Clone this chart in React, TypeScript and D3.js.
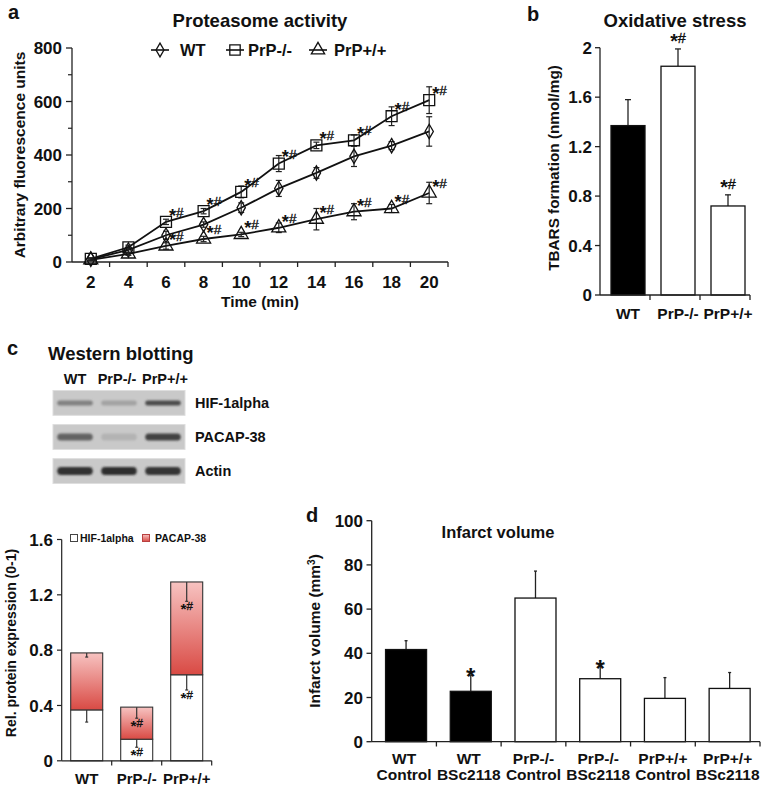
import React from 'react';
import * as d3 from 'd3';

const FONT = '"Liberation Sans", Arial, Helvetica, sans-serif';

// ---------- Panel a: Proteasome activity ----------
const timePoints = [2, 4, 6, 8, 10, 12, 14, 16, 18, 20];
const wtActivity = [10, 45, 100, 140, 203, 275, 333, 395, 435, 488];
const wtActivityErr = [4, 8, 15, 10, 18, 30, 20, 38, 15, 55];
const koActivity = [12, 55, 150, 190, 262, 368, 436, 455, 545, 605];
const koActivityErr = [4, 8, 10, 10, 22, 30, 12, 20, 35, 50];
const tgActivity = [8, 30, 60, 86, 103, 128, 160, 188, 200, 258];
const tgActivityErr = [3, 5, 12, 10, 8, 18, 40, 30, 15, 40];
const koActivitySig = ['', '', '*#', '*#', '*#', '*#', '*#', '*#', '*#', '*#'];
const tgActivitySig = ['', '', '*#', '*#', '*#', '*#', '*#', '*#', '*#', '*#'];
const activityTicks = [0, 200, 400, 600, 800];
const activityMinorTicks = [100, 300, 500, 700];
const activitySeries = ['WT', 'PrP-/-', 'PrP+/+'];

// ---------- Panel b: Oxidative stress ----------
const genotypes = ['WT', 'PrP-/-', 'PrP+/+'];
const tbarsValues = [1.37, 1.85, 0.72];
const tbarsErr = [0.21, 0.14, 0.09];
const tbarsSig = ['', '*#', '*#'];
const tbarsTicks = [0, 0.4, 0.8, 1.2, 1.6, 2];
const tbarsTickLabels = ['0', '0.4', '0.8', '1.2', '1.6', '2'];

// ---------- Panel c: Western blotting ----------
const blotProteins = ['HIF-1alpha', 'PACAP-38', 'Actin'];
const blotIntensity = [
  [0.42, 0.22, 0.72],
  [0.58, 0.12, 0.78],
  [0.88, 0.9, 0.86],
];
const hifExpr = [0.368, 0.156, 0.622];
const hifErr = [0.088, 0.058, 0.11];
const pacapExpr = [0.412, 0.232, 0.671];
const pacapErr = [0.03, 0.08, 0.14];
const hifSig = ['', '*#', '*#'];
const pacapSig = ['', '*#', '*#'];
const exprTicks = [0, 0.4, 0.8, 1.2, 1.6];
const exprTickLabels = ['0', '0.4', '0.8', '1.2', '1.6'];
const exprLegend = ['HIF-1alpha', 'PACAP-38'];

// ---------- Panel d: Infarct volume ----------
const infarctGroups = [
  ['WT', 'Control'],
  ['WT', 'BSc2118'],
  ['PrP-/-', 'Control'],
  ['PrP-/-', 'BSc2118'],
  ['PrP+/+', 'Control'],
  ['PrP+/+', 'BSc2118'],
];
const infarctValues = [41.7, 22.8, 65, 28.5, 19.6, 24.1];
const infarctErr = [4, 7.3, 12.2, 5.5, 9.4, 7.2];
const infarctSig = ['', '*', '', '*', '', ''];
const infarctFill = ['#000', '#000', '#fff', '#fff', '#fff', '#fff'];
const infarctTicks = [0, 20, 40, 60, 80, 100];

const txt = (extra: any = {}) => ({ fontFamily: FONT, fontWeight: 700, fill: '#111', ...extra });

// renders "*#" with an enlarged star-like asterisk
function Sig({ x, y, label, size, anchor = 'start' }: { x: number; y: number; label: string; size: number; anchor?: string }) {
  const star = label.startsWith('*');
  const rest = star ? label.slice(1) : label;
  const shift = size * 0.36;
  return (
    <text x={x} y={y} textAnchor={anchor} {...txt({ fontSize: size, fontWeight: 700 })}>
      {star ? <tspan fontSize={size * 1.35} dy={shift}>*</tspan> : null}
      {rest ? <tspan dy={star ? -shift : 0} fontWeight={400} stroke="#111" strokeWidth={0.35}>{rest}</tspan> : null}
    </text>
  );
}

function PanelA() {
  const xA = d3.scaleBand<number>().domain(timePoints).range([72, 448]);
  const yA = d3.scaleLinear().domain([0, 800]).range([262, 48]);
  const cx = (i: number) => (xA(timePoints[i]) as number) + xA.bandwidth() / 2;
  const line = d3.line<number>().x((_, i) => cx(i)).y((v) => yA(v));
  const series = [
    { name: activitySeries[0], vals: wtActivity, err: wtActivityErr, sym: d3.symbolDiamond, size: 60, sig: null as any },
    { name: activitySeries[1], vals: koActivity, err: koActivityErr, sym: d3.symbolSquare, size: 120, sig: koActivitySig },
    { name: activitySeries[2], vals: tgActivity, err: tgActivityErr, sym: d3.symbolTriangle, size: 85, sig: tgActivitySig },
  ];
  const legendX = [160, 235, 318];
  const legendTextX = [180, 248, 334];
  return (
    <g>
      <text x={8} y={19} {...txt({ fontSize: 20 })}>a</text>
      <text x={260} y={27} textAnchor="middle" {...txt({ fontSize: 18.5 })}>Proteasome activity</text>
      {series.map((s, k) => (
        <g key={'lg' + k}>
          <line x1={legendX[k] - 9} x2={legendX[k] + 9} y1={50} y2={50} stroke="#111" strokeWidth={1.6} />
          <path d={d3.symbol(s.sym, s.size * 0.9)() as string} transform={`translate(${legendX[k]},50)`} fill="none" stroke="#111" strokeWidth={1.3} />
          <text x={legendTextX[k]} y={56} {...txt({ fontSize: 16.5 })}>{s.name}</text>
        </g>
      ))}
      {/* axes */}
      <line x1={72} x2={72} y1={48} y2={262} stroke="#222" strokeWidth={1.3} />
      <line x1={72} x2={448} y1={262} y2={262} stroke="#222" strokeWidth={1.3} />
      {activityTicks.map((t) => (
        <g key={'ya' + t}>
          <line x1={66} x2={72} y1={yA(t)} y2={yA(t)} stroke="#222" strokeWidth={1.3} />
          <text x={62} y={yA(t)} dy="0.36em" textAnchor="end" {...txt({ fontSize: 17 })}>{t}</text>
        </g>
      ))}
      {activityMinorTicks.map((t) => (
        <line key={'ym' + t} x1={68} x2={72} y1={yA(t)} y2={yA(t)} stroke="#222" strokeWidth={1.2} />
      ))}
      {timePoints.map((t, i) => (
        <g key={'xa' + t}>
          <line x1={(xA(t) as number) + xA.bandwidth()} x2={(xA(t) as number) + xA.bandwidth()} y1={262} y2={267} stroke="#222" strokeWidth={1.3} />
          <text x={cx(i)} y={288} textAnchor="middle" {...txt({ fontSize: 17 })}>{t}</text>
        </g>
      ))}
      <text x={260} y={307} textAnchor="middle" {...txt({ fontSize: 15.5 })}>Time (min)</text>
      <text transform="translate(19,155) rotate(-90)" textAnchor="middle" dy="0.36em" {...txt({ fontSize: 15.5 })}>Arbitrary fluorescence units</text>
      {series.map((s, k) => (
        <g key={'s' + k}>
          <path d={line(s.vals) as string} fill="none" stroke="#111" strokeWidth={1.8} />
          {s.vals.map((v, i) => (
            <g key={i}>
              <line x1={cx(i)} x2={cx(i)} y1={yA(v - s.err[i])} y2={yA(v + s.err[i])} stroke="#222" strokeWidth={1.2} />
              <line x1={cx(i) - 3} x2={cx(i) + 3} y1={yA(v + s.err[i])} y2={yA(v + s.err[i])} stroke="#222" strokeWidth={1.2} />
              <line x1={cx(i) - 3} x2={cx(i) + 3} y1={yA(v - s.err[i])} y2={yA(v - s.err[i])} stroke="#222" strokeWidth={1.2} />
              <path d={d3.symbol(s.sym, s.size)() as string} transform={`translate(${cx(i)},${yA(v)})`} fill="none" stroke="#111" strokeWidth={1.3} />
              {s.sig && s.sig[i] ? <Sig x={cx(i) + 3} y={yA(v) - 5} label={s.sig[i]} size={13.5} /> : null}
            </g>
          ))}
        </g>
      ))}
    </g>
  );
}

function PanelB() {
  const xB = d3.scaleBand<string>().domain(genotypes).range([600, 750]);
  const yB = d3.scaleLinear().domain([0, 2]).range([295, 47.7]);
  const cx = (g: string) => (xB(g) as number) + xB.bandwidth() / 2 + 3;
  const bw = 34;
  return (
    <g>
      <text x={527} y={21} {...txt({ fontSize: 20 })}>b</text>
      <text x={675} y={27} textAnchor="middle" {...txt({ fontSize: 18.5 })}>Oxidative stress</text>
      <text transform="translate(553,168) rotate(-90)" textAnchor="middle" dy="0.36em" {...txt({ fontSize: 15.3 })}>TBARS formation (nmol/mg)</text>
      {genotypes.map((g, i) => (
        <g key={g}>
          <line x1={cx(g)} x2={cx(g)} y1={yB(tbarsValues[i])} y2={yB(tbarsValues[i] + tbarsErr[i])} stroke="#222" strokeWidth={1.3} />
          <line x1={cx(g) - 3} x2={cx(g) + 3} y1={yB(tbarsValues[i] + tbarsErr[i])} y2={yB(tbarsValues[i] + tbarsErr[i])} stroke="#222" strokeWidth={1.3} />
          <rect x={cx(g) - bw / 2} y={yB(tbarsValues[i])} width={bw} height={yB(0) - yB(tbarsValues[i])} fill={i === 0 ? '#000' : '#fff'} stroke="#111" strokeWidth={1.3} />
          {tbarsSig[i] ? (
            <Sig x={cx(g)} y={yB(tbarsValues[i] + tbarsErr[i]) - 6} label={tbarsSig[i]} size={14.5} anchor="middle" />
          ) : null}
          <text x={cx(g)} y={319} textAnchor="middle" {...txt({ fontSize: 15.5 })}>{g}</text>
          <line x1={(xB(g) as number) + xB.bandwidth()} x2={(xB(g) as number) + xB.bandwidth()} y1={295} y2={300} stroke="#222" strokeWidth={1.3} />
        </g>
      ))}
      <line x1={600} x2={600} y1={47.7} y2={295} stroke="#222" strokeWidth={1.3} />
      <line x1={600} x2={750} y1={295} y2={295} stroke="#222" strokeWidth={1.3} />
      {tbarsTicks.map((t, i) => (
        <g key={'yb' + t}>
          <line x1={595} x2={600} y1={yB(t)} y2={yB(t)} stroke="#222" strokeWidth={1.3} />
          <text x={592} y={yB(t)} dy="0.36em" textAnchor="end" {...txt({ fontSize: 17 })}>{tbarsTickLabels[i]}</text>
        </g>
      ))}
    </g>
  );
}

function PanelC() {
  const lane = d3.scaleBand<string>().domain(genotypes).range([53, 185]).paddingInner(0.1).paddingOuter(0.05);
  const rowY = d3.scaleBand<string>().domain(blotProteins).range([390.5, 483.5]).paddingInner(0.27);
  const bandH = [5, 7, 8];
  const shade = d3.interpolateRgb('#c8c8c8', '#1c1c1c');
  const laneLabelX = [75, 117, 165];

  const xC = d3.scaleBand<string>().domain(genotypes).range([61.7, 211.7]);
  const yC = d3.scaleLinear().domain([0, 1.6]).range([760.8, 539.5]);
  const cx = (g: string) => (xC(g) as number) + xC.bandwidth() / 2;
  const bw = 32;
  return (
    <g>
      <defs>
        <filter id="blur1" x="-20%" y="-100%" width="140%" height="300%">
          <feGaussianBlur stdDeviation="1.1" />
        </filter>
        <linearGradient id="redGrad" x1="0" y1="0" x2="0" y2="1">
          <stop offset="0" stopColor="#f7c3c1" />
          <stop offset="1" stopColor="#d94a44" />
        </linearGradient>
      </defs>
      <text x={7} y={355} {...txt({ fontSize: 20 })}>c</text>
      <text x={48} y={360} {...txt({ fontSize: 18.5 })}>Western blotting</text>
      {genotypes.map((g, i) => (
        <text key={'ll' + g} x={laneLabelX[i]} y={384} textAnchor="middle" {...txt({ fontSize: 14.5 })}>{g}</text>
      ))}
      {blotProteins.map((p, r) => (
        <g key={p}>
          <rect x={53} y={rowY(p)} width={132} height={rowY.bandwidth()} fill="#c9c9c9" stroke="#dedede" strokeWidth={1} />
          {genotypes.map((g, i) => (
            <rect key={g} x={(lane(g) as number) + 2} width={lane.bandwidth() - 4}
              y={(rowY(p) as number) + rowY.bandwidth() / 2 - bandH[r] / 2} height={bandH[r]}
              rx={bandH[r] / 2} fill={shade(blotIntensity[r][i])} filter="url(#blur1)" />
          ))}
          <text x={195} y={(rowY(p) as number) + rowY.bandwidth() / 2} dy="0.36em" {...txt({ fontSize: 14.5 })}>{p}</text>
        </g>
      ))}

      {/* legend */}
      <rect x={70.5} y={534.5} width={7} height={7} fill="#fff" stroke="#444" strokeWidth={1} />
      <text x={80} y={542} {...txt({ fontSize: 10.5 })}>{exprLegend[0]}</text>
      <rect x={142.5} y={534.5} width={7} height={7} fill="url(#redGrad)" stroke="#b84040" strokeWidth={1} />
      <text x={155} y={542} {...txt({ fontSize: 10.5 })}>{exprLegend[1]}</text>

      <text transform="translate(11,643) rotate(-90)" textAnchor="middle" dy="0.36em" {...txt({ fontSize: 14 })}>Rel. protein expression (0-1)</text>
      {genotypes.map((g, i) => {
        const h = hifExpr[i];
        const tot = hifExpr[i] + pacapExpr[i];
        return (
          <g key={'cb' + g}>
            <rect x={cx(g) - bw / 2} y={yC(h)} width={bw} height={yC(0) - yC(h)} fill="#fff" stroke="#333" strokeWidth={1.1} />
            <rect x={cx(g) - bw / 2} y={yC(tot)} width={bw} height={yC(h) - yC(tot)} fill="url(#redGrad)" stroke="#333" strokeWidth={1.1} />
            <line x1={cx(g)} x2={cx(g)} y1={yC(h)} y2={yC(h - hifErr[i])} stroke="#333" strokeWidth={1.2} />
            <line x1={cx(g) - 1.5} x2={cx(g) + 1.5} y1={yC(h - hifErr[i])} y2={yC(h - hifErr[i])} stroke="#333" strokeWidth={1.2} />
            <line x1={cx(g)} x2={cx(g)} y1={yC(tot)} y2={yC(tot - pacapErr[i])} stroke="#333" strokeWidth={1.2} />
            <line x1={cx(g) - 1.5} x2={cx(g) + 1.5} y1={yC(tot - pacapErr[i])} y2={yC(tot - pacapErr[i])} stroke="#333" strokeWidth={1.2} />
            {pacapSig[i] ? <Sig x={cx(g)} y={yC(tot - pacapErr[i]) + 9} label={pacapSig[i]} size={11.5} anchor="middle" /> : null}
            {hifSig[i] ? <Sig x={cx(g)} y={yC(h - hifErr[i]) + 9} label={hifSig[i]} size={11.5} anchor="middle" /> : null}
            <text x={cx(g)} y={784} textAnchor="middle" {...txt({ fontSize: 15 })}>{g}</text>
            <line x1={(xC(g) as number) + xC.bandwidth()} x2={(xC(g) as number) + xC.bandwidth()} y1={760.8} y2={765.5} stroke="#222" strokeWidth={1.2} />
          </g>
        );
      })}
      <line x1={61.7} x2={61.7} y1={539.5} y2={760.8} stroke="#222" strokeWidth={1.2} />
      <line x1={61.7} x2={211.7} y1={760.8} y2={760.8} stroke="#222" strokeWidth={1.2} />
      {exprTicks.map((t, i) => (
        <g key={'yc' + t}>
          <line x1={57} x2={61.7} y1={yC(t)} y2={yC(t)} stroke="#222" strokeWidth={1.2} />
          <text x={53} y={yC(t)} dy="0.36em" textAnchor="end" {...txt({ fontSize: 17 })}>{exprTickLabels[i]}</text>
        </g>
      ))}
    </g>
  );
}

function PanelD() {
  const keys = infarctGroups.map((g) => g.join(' '));
  const xD = d3.scaleBand<string>().domain(keys).range([371.7, 760]);
  const yD = d3.scaleLinear().domain([0, 100]).range([741.7, 520.7]);
  const cx = (k: string) => (xD(k) as number) + xD.bandwidth() / 2 + 2;
  const bw = 41;
  return (
    <g>
      <text x={306} y={522} {...txt({ fontSize: 20 })}>d</text>
      <text x={498} y={538} textAnchor="middle" {...txt({ fontSize: 16.5 })}>Infarct volume</text>
      <text transform="translate(314,631) rotate(-90)" textAnchor="middle" dy="0.36em" {...txt({ fontSize: 15.5 })}>
        Infarct volume (mm<tspan dy="-5" fontSize={10}>3</tspan><tspan dy="5">)</tspan>
      </text>
      {keys.map((k, i) => (
        <g key={k}>
          <line x1={cx(k)} x2={cx(k)} y1={yD(infarctValues[i])} y2={yD(infarctValues[i] + infarctErr[i])} stroke="#222" strokeWidth={1.3} />
          <line x1={cx(k) - 1.5} x2={cx(k) + 1.5} y1={yD(infarctValues[i] + infarctErr[i])} y2={yD(infarctValues[i] + infarctErr[i])} stroke="#222" strokeWidth={1.3} />
          <rect x={cx(k) - bw / 2} y={yD(infarctValues[i])} width={bw} height={yD(0) - yD(infarctValues[i])} fill={infarctFill[i]} stroke="#111" strokeWidth={1.3} />
          {infarctSig[i] ? (
            <text x={cx(k)} y={yD(infarctValues[i] + infarctErr[i]) + 10} textAnchor="middle" {...txt({ fontSize: 24 })}>{infarctSig[i]}</text>
          ) : null}
          <text x={cx(k) - 2} y={764} textAnchor="middle" {...txt({ fontSize: 15.5 })}>{infarctGroups[i][0]}</text>
          <text x={cx(k) - 2} y={780} textAnchor="middle" {...txt({ fontSize: 15.5 })}>{infarctGroups[i][1]}</text>
          <line x1={(xD(k) as number) + xD.bandwidth()} x2={(xD(k) as number) + xD.bandwidth()} y1={741.7} y2={746.5} stroke="#222" strokeWidth={1.3} />
        </g>
      ))}
      <line x1={371.7} x2={371.7} y1={520.7} y2={741.7} stroke="#222" strokeWidth={1.3} />
      <line x1={371.7} x2={760} y1={741.7} y2={741.7} stroke="#222" strokeWidth={1.3} />
      {infarctTicks.map((t) => (
        <g key={'yd' + t}>
          <line x1={366.5} x2={371.7} y1={yD(t)} y2={yD(t)} stroke="#222" strokeWidth={1.3} />
          <text x={363} y={yD(t)} dy="0.36em" textAnchor="end" {...txt({ fontSize: 17 })}>{t}</text>
        </g>
      ))}
    </g>
  );
}

export default function App() {
  return (
    <svg width={764} height={787} viewBox="0 0 764 787" style={{ position: 'absolute', left: 0, top: 0, background: '#fff' }}>
      <rect x={0} y={0} width={764} height={787} fill="#fff" />
      <PanelA />
      <PanelB />
      <PanelC />
      <PanelD />
    </svg>
  );
}
